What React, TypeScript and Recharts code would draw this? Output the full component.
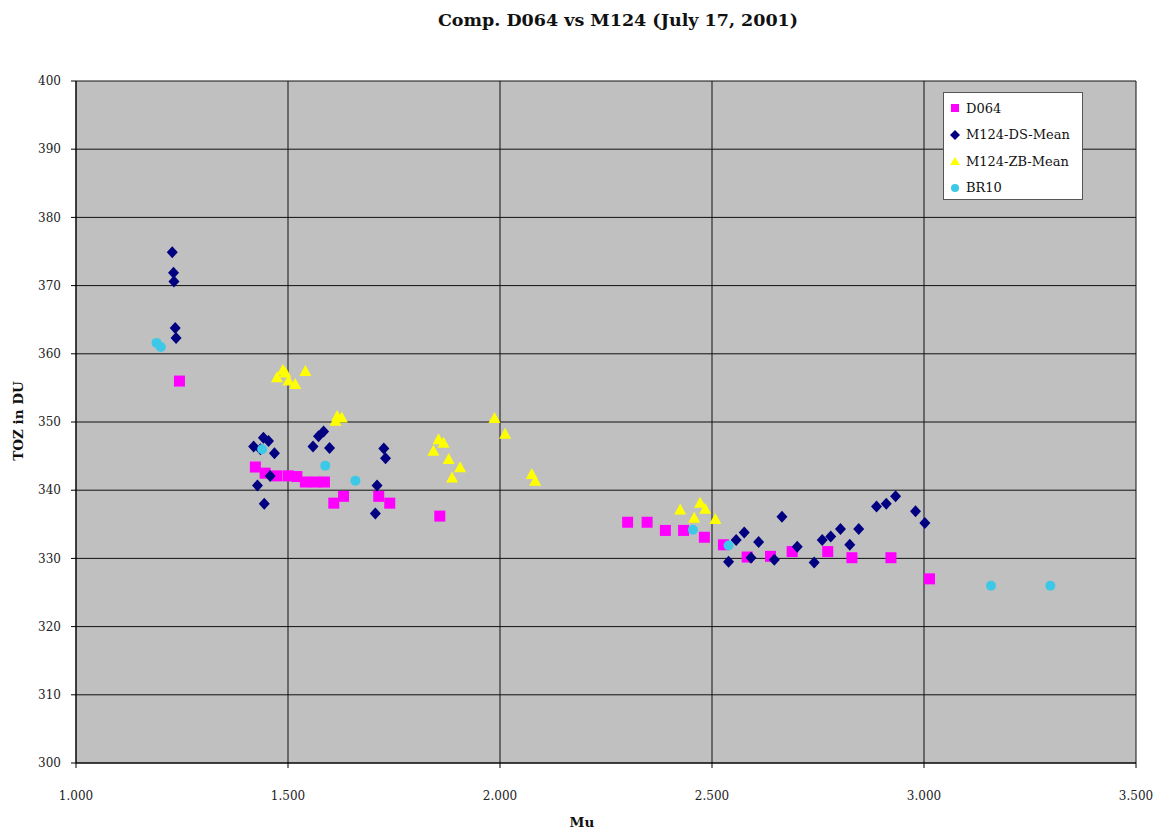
import React from 'react';
import { ScatterChart, Scatter, XAxis, YAxis, CartesianGrid, Legend } from 'recharts';

interface Pt {
  mu: number;
  toz: number;
}

const xTicks = [1, 1.5, 2, 2.5, 3, 3.5];
const yTicks = [300, 310, 320, 330, 340, 350, 360, 370, 380, 390, 400];

const d064: Pt[] = [
  { mu: 1.244, toz: 356.0 },
  { mu: 1.423, toz: 343.4 }, { mu: 1.446, toz: 342.5 }, { mu: 1.474, toz: 342.1 },
  { mu: 1.501, toz: 342.1 }, { mu: 1.521, toz: 342.0 }, { mu: 1.541, toz: 341.2 },
  { mu: 1.564, toz: 341.2 }, { mu: 1.586, toz: 341.2 }, { mu: 1.608, toz: 338.1 },
  { mu: 1.631, toz: 339.1 }, { mu: 1.714, toz: 339.1 }, { mu: 1.740, toz: 338.1 },
  { mu: 1.858, toz: 336.2 },
  { mu: 2.301, toz: 335.3 }, { mu: 2.347, toz: 335.3 }, { mu: 2.390, toz: 334.1 },
  { mu: 2.433, toz: 334.1 }, { mu: 2.482, toz: 333.1 }, { mu: 2.527, toz: 332.0 },
  { mu: 2.583, toz: 330.2 }, { mu: 2.638, toz: 330.3 }, { mu: 2.689, toz: 331.0 },
  { mu: 2.773, toz: 331.0 }, { mu: 2.830, toz: 330.1 }, { mu: 2.922, toz: 330.1 },
  { mu: 3.013, toz: 327.0 },
];

const m124Ds: Pt[] = [
  { mu: 1.227, toz: 374.9 }, { mu: 1.230, toz: 371.9 }, { mu: 1.231, toz: 370.6 },
  { mu: 1.234, toz: 363.8 }, { mu: 1.236, toz: 362.3 },
  { mu: 1.419, toz: 346.4 }, { mu: 1.435, toz: 346.0 }, { mu: 1.442, toz: 347.7 },
  { mu: 1.454, toz: 347.2 }, { mu: 1.468, toz: 345.4 }, { mu: 1.458, toz: 342.1 },
  { mu: 1.428, toz: 340.7 }, { mu: 1.444, toz: 338.0 },
  { mu: 1.559, toz: 346.4 }, { mu: 1.572, toz: 347.9 }, { mu: 1.584, toz: 348.6 },
  { mu: 1.598, toz: 346.2 },
  { mu: 1.726, toz: 346.1 }, { mu: 1.730, toz: 344.7 }, { mu: 1.710, toz: 340.7 },
  { mu: 1.706, toz: 336.6 },
  { mu: 2.539, toz: 329.5 }, { mu: 2.557, toz: 332.7 }, { mu: 2.576, toz: 333.8 },
  { mu: 2.592, toz: 330.1 }, { mu: 2.610, toz: 332.4 }, { mu: 2.647, toz: 329.8 },
  { mu: 2.665, toz: 336.1 }, { mu: 2.701, toz: 331.7 }, { mu: 2.741, toz: 329.4 },
  { mu: 2.760, toz: 332.7 }, { mu: 2.780, toz: 333.2 }, { mu: 2.803, toz: 334.3 },
  { mu: 2.825, toz: 332.0 }, { mu: 2.846, toz: 334.3 }, { mu: 2.888, toz: 337.6 },
  { mu: 2.911, toz: 338.0 }, { mu: 2.933, toz: 339.1 }, { mu: 2.980, toz: 336.9 },
  { mu: 3.002, toz: 335.2 },
];

const m124Zb: Pt[] = [
  { mu: 1.474, toz: 356.5 }, { mu: 1.488, toz: 357.6 }, { mu: 1.494, toz: 357.2 },
  { mu: 1.501, toz: 356.0 }, { mu: 1.517, toz: 355.5 }, { mu: 1.541, toz: 357.4 },
  { mu: 1.612, toz: 350.1 }, { mu: 1.616, toz: 350.8 }, { mu: 1.627, toz: 350.6 },
  { mu: 1.843, toz: 345.7 }, { mu: 1.855, toz: 347.4 }, { mu: 1.867, toz: 346.9 },
  { mu: 1.879, toz: 344.5 }, { mu: 1.887, toz: 341.8 }, { mu: 1.906, toz: 343.3 },
  { mu: 1.987, toz: 350.5 }, { mu: 2.012, toz: 348.2 },
  { mu: 2.075, toz: 342.3 }, { mu: 2.083, toz: 341.3 },
  { mu: 2.425, toz: 337.1 }, { mu: 2.458, toz: 335.9 }, { mu: 2.472, toz: 338.1 },
  { mu: 2.484, toz: 337.2 }, { mu: 2.508, toz: 335.7 },
];

const br10: Pt[] = [
  { mu: 1.190, toz: 361.6 }, { mu: 1.200, toz: 361.0 }, { mu: 1.439, toz: 346.0 },
  { mu: 1.588, toz: 343.6 }, { mu: 1.659, toz: 341.4 }, { mu: 2.455, toz: 334.2 },
  { mu: 2.539, toz: 331.9 }, { mu: 3.158, toz: 326.0 }, { mu: 3.298, toz: 326.0 },
];

const COLORS = {
  d064: '#FF00FF',
  ds: '#000080',
  zb: '#FFFF00',
  br: '#3CC8E6',
};

const FONT = '"DejaVu Serif", "Liberation Serif", serif';

type ShapeProps = { cx?: number; cy?: number };

const SquareDot = ({ cx = 0, cy = 0 }: ShapeProps) => (
  <rect x={cx - 5.5} y={cy - 5.5} width={11} height={11} fill={COLORS.d064} />
);

const DiamondDot = ({ cx = 0, cy = 0 }: ShapeProps) => (
  <polygon points={`${cx},${cy - 6} ${cx + 5.5},${cy} ${cx},${cy + 6} ${cx - 5.5},${cy}`} fill={COLORS.ds} />
);

const TriangleDot = ({ cx = 0, cy = 0 }: ShapeProps) => (
  <polygon points={`${cx},${cy - 6.5} ${cx + 6},${cy + 4.5} ${cx - 6},${cy + 4.5}`} fill={COLORS.zb} />
);

const CircleDot = ({ cx = 0, cy = 0 }: ShapeProps) => (
  <circle cx={cx} cy={cy} r={5} fill={COLORS.br} />
);

const legendItems = [
  { name: 'D064', marker: 'square', color: COLORS.d064 },
  { name: 'M124-DS-Mean', marker: 'diamond', color: COLORS.ds },
  { name: 'M124-ZB-Mean', marker: 'triangle', color: COLORS.zb },
  { name: 'BR10', marker: 'circle', color: COLORS.br },
];

const LegendMarker = ({ marker, color }: { marker: string; color: string }) => (
  <svg width={10} height={10} style={{ marginRight: 6 }}>
    {marker === 'square' && <rect x={1} y={1} width={8} height={8} fill={color} />}
    {marker === 'diamond' && <polygon points="5,0 10,5 5,10 0,5" fill={color} />}
    {marker === 'triangle' && <polygon points="5,1 10,9 0,9" fill={color} />}
    {marker === 'circle' && <circle cx={5} cy={5} r={4} fill={color} />}
  </svg>
);

const renderLegend = () => (
  <div
    style={{
      width: 140,
      height: 108,
      background: '#fff',
      border: '1px solid #555',
      boxSizing: 'border-box',
      padding: '2px 0 0 6px',
      fontFamily: FONT,
      fontSize: 13,
      color: '#111',
    }}
  >
    {legendItems.map((it) => (
      <div key={it.name} style={{ display: 'flex', alignItems: 'center', height: 26.5, whiteSpace: 'nowrap' }}>
        <LegendMarker marker={it.marker} color={it.color} />
        <span>{it.name}</span>
      </div>
    ))}
  </div>
);

const App: React.FC = () => {
  return (
    <div style={{ position: 'relative', width: 1148, height: 821, background: '#fff' }}>
      <div
        style={{
          position: 'absolute',
          top: 2,
          left: 0,
          width: 1220,
          textAlign: 'center',
          fontFamily: FONT,
          fontWeight: 'bold',
          fontSize: 17.5,
          color: '#111',
        }}
      >
        Comp. D064 vs M124 (July 17, 2001)
      </div>
      <div
        style={{
          position: 'absolute',
          left: -40,
          top: 405,
          width: 100,
          textAlign: 'center',
          transform: 'rotate(-90deg)',
          fontFamily: FONT,
          fontWeight: 'bold',
          fontSize: 13.5,
          color: '#111',
        }}
      >
        TOZ in DU
      </div>
      <div
        style={{
          position: 'absolute',
          left: 524,
          top: 806,
          width: 100,
          textAlign: 'center',
          fontFamily: FONT,
          fontWeight: 'bold',
          fontSize: 13.5,
          color: '#111',
        }}
      >
        Mu
      </div>
      <ScatterChart width={1148} height={821} margin={{ top: 73, right: 20, bottom: 16, left: 8 }}>
        <CartesianGrid stroke="#111" fill="#C0C0C0" fillOpacity={1} />
        <XAxis
          type="number"
          dataKey="mu"
          domain={[1, 3.5]}
          ticks={xTicks}
          tickFormatter={(v: number) => v.toFixed(3)}
          height={50}
          tickSize={5}
          tickMargin={23}
          axisLine={{ stroke: '#000' }}
          tickLine={{ stroke: '#000' }}
          tick={{ fontFamily: FONT, fontSize: 12, fill: '#222' }}
          allowDataOverflow
        />
        <YAxis
          type="number"
          dataKey="toz"
          domain={[300, 400]}
          ticks={yTicks}
          width={60}
          tickSize={5}
          tickMargin={10}
          axisLine={{ stroke: '#000' }}
          tickLine={{ stroke: '#000' }}
          tick={{ fontFamily: FONT, fontSize: 12, fill: '#222' }}
          allowDataOverflow
        />
        <Legend
          layout="vertical"
          align="center"
          verticalAlign="middle"
          content={renderLegend}
          wrapperStyle={{ top: 84, left: 935, width: 140 }}
        />
        <Scatter name="D064" data={d064} shape={SquareDot} isAnimationActive={false} />
        <Scatter name="M124-DS-Mean" data={m124Ds} shape={DiamondDot} isAnimationActive={false} />
        <Scatter name="M124-ZB-Mean" data={m124Zb} shape={TriangleDot} isAnimationActive={false} />
        <Scatter name="BR10" data={br10} shape={CircleDot} isAnimationActive={false} />
      </ScatterChart>
    </div>
  );
};

export default App;
